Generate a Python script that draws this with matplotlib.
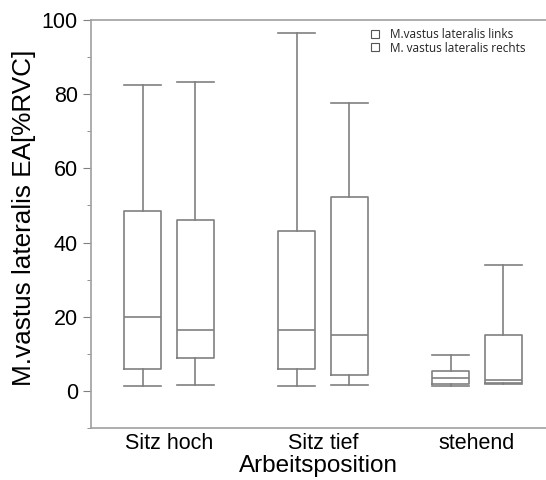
import numpy as np
import matplotlib.pyplot as plt
from matplotlib.lines import Line2D
from matplotlib.ticker import MultipleLocator

plt.rcParams['font.family'] = ['Liberation Sans', 'DejaVu Sans']

# Data (percent RVC)
categories = ['Sitz hoch', 'Sitz tief', 'stehend']
series_names = ['M.vastus lateralis links', 'M. vastus lateralis rechts']

links_whislo = [1.4, 1.3, 1.4]
links_q1 = [6.0, 5.9, 1.9]
links_med = [19.8, 16.3, 3.4]
links_q3 = [48.5, 43.2, 5.3]
links_whishi = [82.6, 96.5, 9.6]

rechts_whislo = [1.5, 1.6, 1.8]
rechts_q1 = [8.9, 4.4, 2.2]
rechts_med = [16.3, 15.2, 2.9]
rechts_q3 = [46.2, 52.4, 15.2]
rechts_whishi = [83.2, 77.5, 34.0]

line_col = '#808080'


def make_stats(lo, q1, med, q3, hi):
    return [dict(whislo=a, q1=b, med=c, q3=d, whishi=e, fliers=[])
            for a, b, c, d, e in zip(lo, q1, med, q3, hi)]


fig = plt.figure(figsize=(5.46, 4.8), dpi=100)
ax = fig.add_axes([91 / 546, 1 - 428 / 480, 1 - 91 / 546, (428 - 20) / 480])

x = np.arange(len(categories))
offset = 0.17
width = 0.24
props = dict(color=line_col, linewidth=1.2)
box_kw = dict(widths=width, showfliers=False, patch_artist=False,
              boxprops=props, whiskerprops=props, capprops=props,
              medianprops=props, capwidths=width)

ax.bxp(make_stats(links_whislo, links_q1, links_med, links_q3, links_whishi),
       positions=x - offset, **box_kw)
ax.bxp(make_stats(rechts_whislo, rechts_q1, rechts_med, rechts_q3, rechts_whishi),
       positions=x + offset, **box_kw)

ax.set_xlim(-0.506, 2.448)
ax.set_ylim(-10, 100)
ax.set_xticks(x)
ax.set_xticklabels(categories, fontsize=15.5)
ax.tick_params(axis='x', length=0, pad=3.5)
ax.yaxis.set_major_locator(MultipleLocator(20))
ax.yaxis.set_minor_locator(MultipleLocator(10))
ax.tick_params(axis='y', which='both', colors=line_col, labelcolor='black',
               labelsize=15.5, length=6)
ax.tick_params(axis='y', which='minor', length=3)

for side in ['left', 'bottom', 'top']:
    ax.spines[side].set_color('#a0a0a0')
    ax.spines[side].set_linewidth(1.2)
ax.spines['right'].set_visible(False)

ax.set_xlabel('Arbeitsposition', fontsize=17.5, labelpad=1)
ax.set_ylabel('M.vastus lateralis EA[%RVC]', fontsize=18.8)
ax.yaxis.set_label_coords(-0.12, 0.515)

handles = [Line2D([], [], linestyle='none', marker='s', markersize=5.5,
                  markerfacecolor='white', markeredgecolor='#555555',
                  markeredgewidth=0.8) for _ in series_names]
leg = ax.legend(handles, series_names, loc='upper left',
                bbox_to_anchor=(370 / 546, 1 - 28 / 480),
                bbox_transform=fig.transFigure, frameon=False,
                prop=dict(family='Open Sans', size=8.5),
                handlelength=0.8, handletextpad=0.9, labelspacing=0.05,
                borderpad=0, borderaxespad=0)
for t in leg.get_texts():
    t.set_color('#222222')

fig.savefig('out.png', dpi=100)
